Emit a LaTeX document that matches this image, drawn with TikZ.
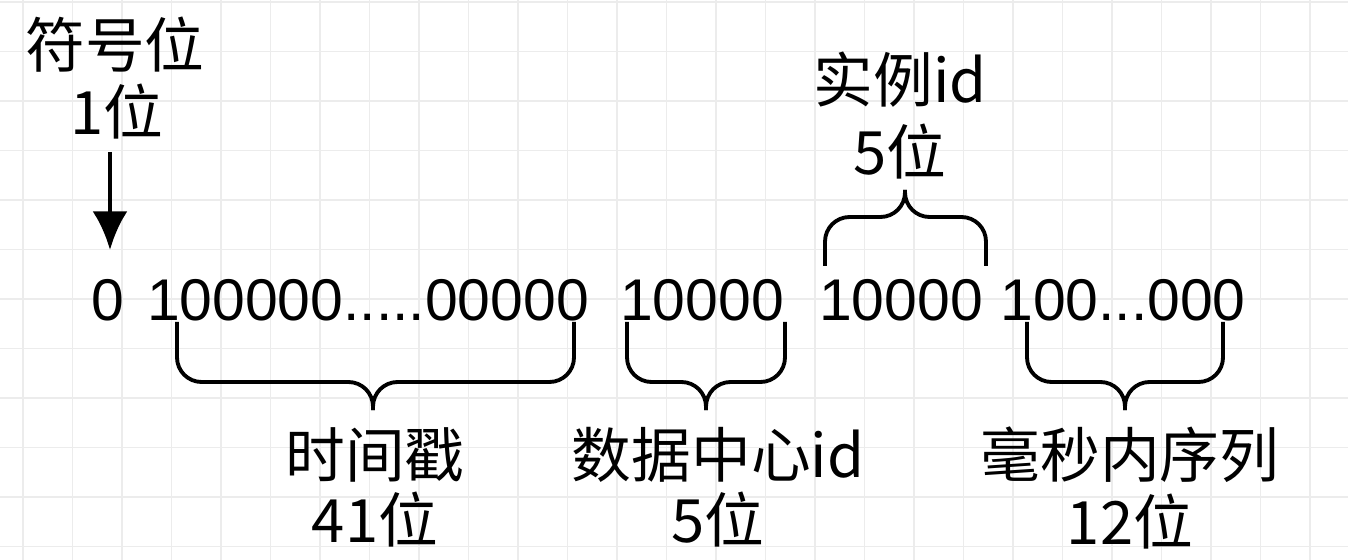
\documentclass[tikz,border=0pt]{standalone}
\usepackage{fontspec}
\usetikzlibrary{arrows.meta}
\setmainfont{Liberation Sans}
\newfontfamily\cjk{Noto Sans CJK SC}
\begin{document}
\begin{tikzpicture}[x=0.02cm,y=-0.02cm,
  lbl/.style={font=\cjk\fontsize{34}{36}\selectfont,inner sep=0},
  num/.style={font=\fontsize{33.5}{36}\selectfont,inner sep=0},
  brc/.style={line width=2.2pt,rounded corners=14pt},
  gridl/.style={gray!15,line width=0.8pt}]
\fill[white] (0,0) rectangle (1348,560);
\useasboundingbox (0,0) rectangle (1348,560);
\foreach \i in {0,...,27} \draw[gridl] (23+49.5*\i,0) -- (23+49.5*\i,560);
\foreach \j in {0,...,11} \draw[gridl] (0,2+49.5*\j) -- (1348,2+49.5*\j);
% top labels
\node[lbl] (s1) at (115,45) {符号位};
\node[lbl] (s2) at (117,112) {1位};
\coordinate (a0) at (110,152);
\node[num] (b0) at (108,300) {0};
\draw[line width=2.8pt,-{Latex[length=22pt,width=20pt]}] (a0) -- (110,250);
\node[num] (b1) at (368,300) {100000.....00000};
\node[num] (b2) at (702,300) {10000};
\node[num] (b3) at (901,300) {10000};
\node[num] (b4) at (1123,300) {100...000};
% braces
\draw[brc] (177,322) -- (177,382) -- (373,382) -- (373,410);
\draw[brc] (574,322) -- (574,382) -- (373,382) -- (373,410);
\draw[brc] (627,322) -- (627,382) -- (706,382) -- (706,410);
\draw[brc] (785,322) -- (785,382) -- (706,382) -- (706,410);
\draw[brc] (1027,322) -- (1027,382) -- (1125,382) -- (1125,410);
\draw[brc] (1223,322) -- (1223,382) -- (1125,382) -- (1125,410);
\draw[brc] (825,266) -- (825,217) -- (905,217) -- (905,190);
\draw[brc] (986,266) -- (986,217) -- (905,217) -- (905,190);
% labels
\node[lbl] (t1) at (375,455) {时间戳};
\node[lbl] (t2) at (375,520) {41位};
\node[lbl] (d1) at (718,455) {数据中心id};
\node[lbl] (d2) at (718,520) {5位};
\node[lbl] (m1) at (1130,455) {毫秒内序列};
\node[lbl] (m2) at (1130,522) {12位};
\node[lbl] (i1) at (900,80) {实例id};
\node[lbl] (i2) at (900,152) {5位};
\end{tikzpicture}
\end{document}
